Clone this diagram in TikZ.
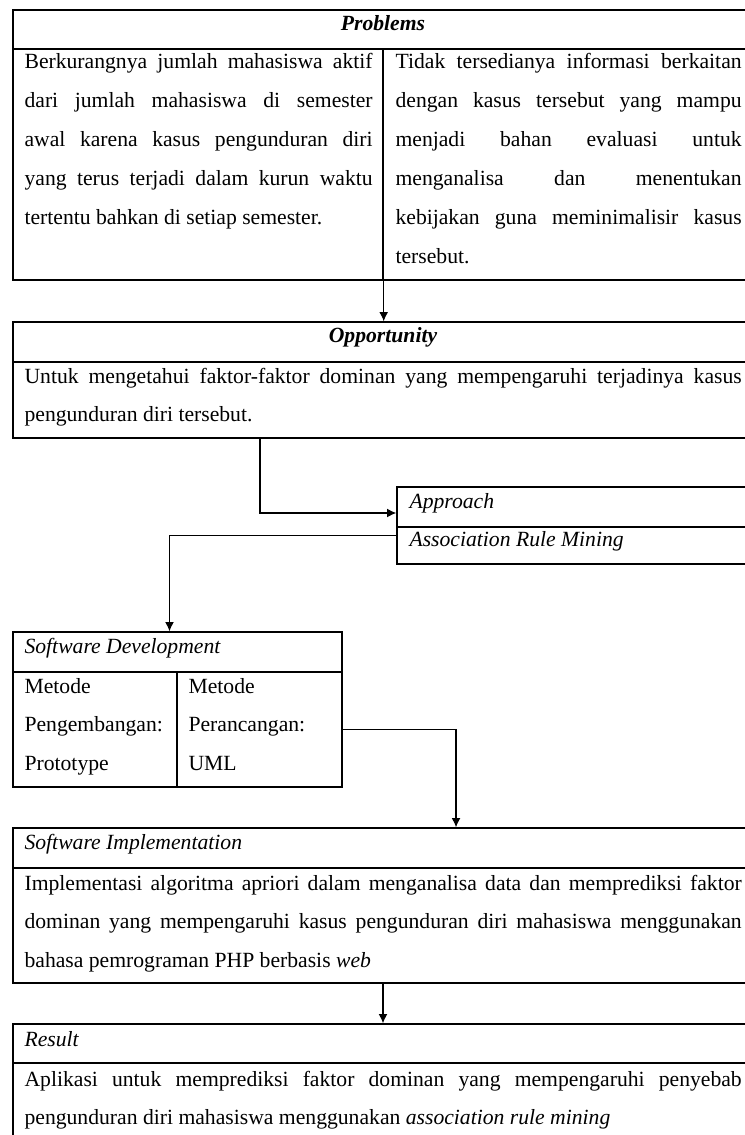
\documentclass[tikz,border=0pt]{standalone}
\usepackage{fontspec}
\setmainfont{Liberation Serif}
\usepackage{tikz}
\usetikzlibrary{positioning,arrows.meta,fit}
\tolerance=10000
\hbadness=10000
\newcommand{\bodyfont}{\fontsize{15.4}{27.6}\selectfont}
\tikzset{
    x=0.025cm,
    y=-0.025cm,
    box/.style = {
        draw,
        shape=rectangle,
        inner sep=0pt,
        line width=1pt
    },
    head/.style = {
        inner sep=0pt,
        font=\bodyfont\itshape
    },
    txt/.style = {
        anchor=base west,
        inner sep=0pt,
        align=justify,
        font=\bodyfont
    },
    >={Latex[length=2.3mm,width=2.2mm]},
}
\begin{document}
\begin{tikzpicture}[line width=0.8pt]
        \path[use as bounding box, fill=white] (0,0) rectangle (744,1135);

        % problems
        \node[box, fit={(13,10) (753,49)}] (probhead) {};
        \node[box, fit={(13,49) (383,280)}] (probL) {};
        \node[box, fit={(383,49) (753,280)}] (probR) {};
        \node[head, anchor=base] (probtitle) at (383,31) {\textbf{Problems}};
        \node[txt, text width=8.7cm] (probLtxt) at (24,69) {
            Berkurangnya jumlah mahasiswa aktif\linebreak
            dari jumlah mahasiswa di semester\linebreak
            awal karena kasus pengunduran diri\linebreak
            yang terus terjadi dalam kurun waktu\linebreak
            tertentu bahkan di setiap semester.};
        \node[txt, text width=8.65cm] (probRtxt) at (395,69) {
            Tidak tersedianya informasi berkaitan\linebreak
            dengan kasus tersebut yang mampu\linebreak
            menjadi bahan evaluasi untuk\linebreak
            menganalisa dan menentukan\linebreak
            kebijakan guna meminimalisir kasus\linebreak
            tersebut.};

        % opportunity
        \node[box, fit={(13,322) (753,362)}] (opphead) {};
        \node[box, fit={(13,362) (753,438)}] (oppbody) {};
        \node[head, anchor=base] (opptitle) at (383,343) {\textbf{Opportunity}};
        \node[txt, text width=17.925cm] (opptxt) at (24,383) {
            Untuk mengetahui faktor-faktor dominan yang mempengaruhi terjadinya kasus\linebreak
            pengunduran diri tersebut.};

        % approach
        \node[box, fit={(397,487) (753,527)}] (apphead) {};
        \node[box, fit={(397,527) (753,564)}] (appbody) {};
        \node[head, anchor=base west] (apptitle) at (409,508) {Approach};
        \node[head, anchor=base west] (apptxt) at (409,546) {Association Rule Mining};

        % software development
        \node[box, fit={(13,632) (342,672)}] (sdhead) {};
        \node[box, fit={(13,672) (177,787)}] (sdL) {};
        \node[box, fit={(177,672) (342,787)}] (sdR) {};
        \node[head, anchor=base west] (sdtitle) at (24,653) {Software Development};
        \node[txt, align=left, text width=3.75cm] (sdLtxt) at (24,693) {Metode\\ Pengembangan:\\ Prototype};
        \node[txt, align=left, text width=3.75cm] (sdRtxt) at (188,693) {Metode\\ Perancangan:\\ UML};

        % software implementation
        \node[box, fit={(13,828) (753,868)}] (sihead) {};
        \node[box, fit={(13,868) (753,983)}] (sibody) {};
        \node[head, anchor=base west] (sititle) at (24,849) {Software Implementation};
        \node[txt, text width=17.925cm] (sitxt) at (24,890) {
            Implementasi algoritma apriori dalam menganalisa data dan memprediksi faktor\linebreak
            dominan yang mempengaruhi kasus pengunduran diri mahasiswa menggunakan\linebreak
            bahasa pemrograman PHP berbasis \textit{web}};

        % result
        \node[box, fit={(13,1024) (753,1063)}] (reshead) {};
        \node[box, fit={(13,1063) (753,1150)}] (resbody) {};
        \node[head, anchor=base west] (restitle) at (24,1046) {Result};
        \node[txt, text width=17.925cm] (restxt) at (24,1086) {
            Aplikasi untuk memprediksi faktor dominan yang mempengaruhi penyebab\linebreak
            pengunduran diri mahasiswa menggunakan \textit{association rule mining}};

        \coordinate (oppout) at (260,438);

        \path[draw, ->] (probL.south east) -- (probL.south east |- opphead.north);
        \path[draw, ->] (oppout) |- ([yshift=-0.15cm]apphead.west);
        \path[draw, ->] ([yshift=0.26cm]appbody.west) -| ([xshift=-0.2cm]sdhead.north);
        \path[draw, ->] (sdR.east) -| ([xshift=1.825cm]sihead.north);
        \path[draw, ->] (sibody.south) -- (reshead.north);
    \end{tikzpicture}
\end{document}
